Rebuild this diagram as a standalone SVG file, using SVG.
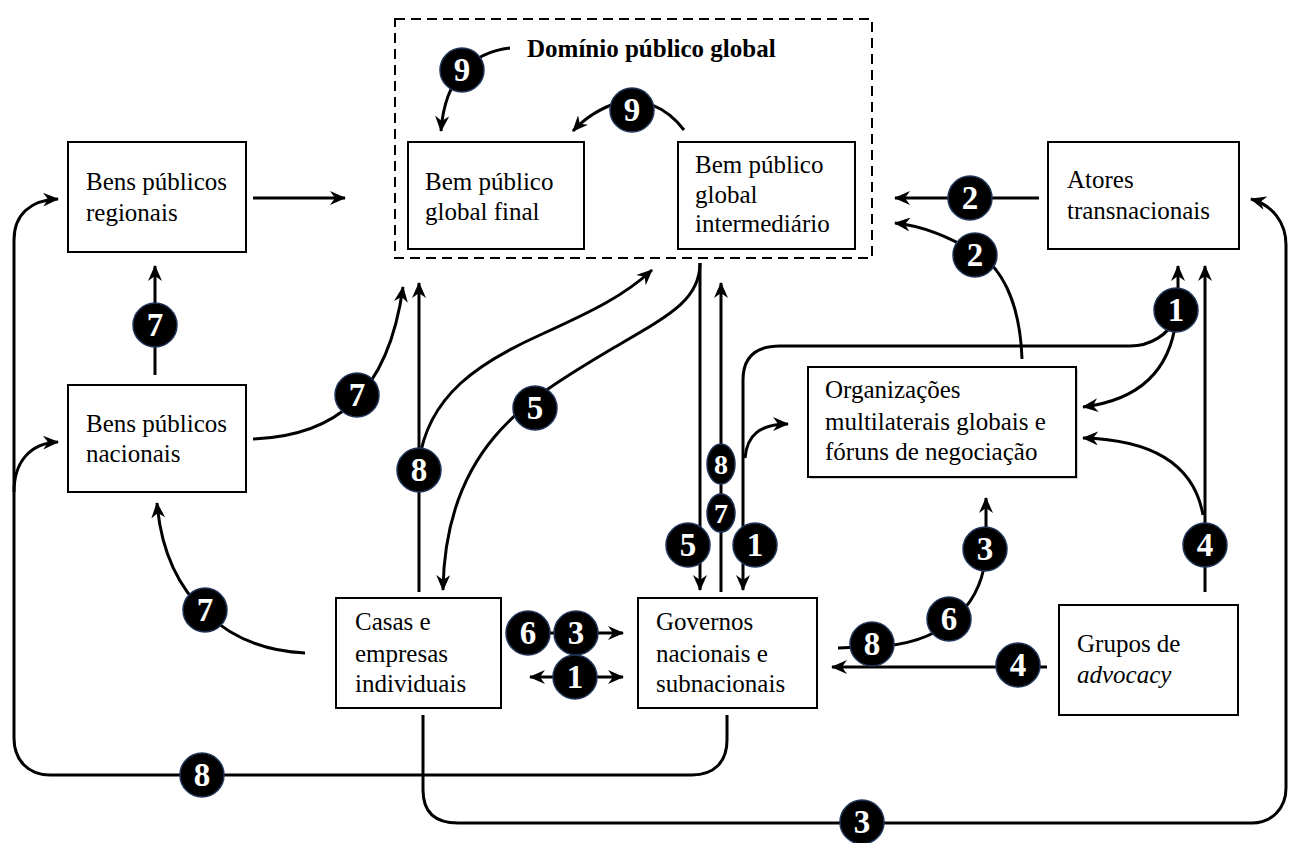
<svg xmlns="http://www.w3.org/2000/svg" width="1290" height="843" viewBox="0 0 1290 843">
<style>
.box{fill:#fff;stroke:#000;stroke-width:2}
.t{font-family:'Liberation Serif','Times New Roman',serif;font-size:25px;fill:#000}
.title{font-family:'Liberation Serif','Times New Roman',serif;font-size:25px;font-weight:bold;fill:#000}
.c{fill:none;stroke:#000;stroke-width:3}
.a{marker-end:url(#ah)}
.b circle,.b ellipse{fill:#000;stroke:#1f3458;stroke-width:1.5}
.b text{font-family:'Liberation Serif','Times New Roman',serif;font-size:33px;font-weight:bold;fill:#fff;text-anchor:middle}
</style>
<defs>
<marker id="ah" viewBox="0 0 16 14" refX="15" refY="7" markerWidth="16" markerHeight="14" markerUnits="userSpaceOnUse" orient="auto-start-reverse">
<path d="M0,0 L16,7 L0,14 L5,7 z" fill="#000"/>
</marker>
</defs>
<rect width="1290" height="843" fill="#fff"/>

<g id="dominio">
<rect x="395" y="19" width="477" height="239" fill="none" stroke="#000" stroke-width="2" stroke-dasharray="10,6"/>
<text class="title" x="527" y="57">Domínio público global</text>
</g>
<g id="bem-final">
<rect class="box" x="408" y="142" width="176" height="107"/>
<text class="t" x="425" y="190">Bem público</text>
<text class="t" x="425" y="220">global final</text>
</g>
<g id="bem-intermediario">
<rect class="box" x="678" y="142" width="177" height="107"/>
<text class="t" x="695" y="173">Bem público</text>
<text class="t" x="695" y="203">global</text>
<text class="t" x="695" y="232">intermediário</text>
</g>
<g id="regionais">
<rect class="box" x="68" y="142" width="178" height="110"/>
<text class="t" x="86" y="190">Bens públicos</text>
<text class="t" x="86" y="221">regionais</text>
</g>
<g id="nacionais">
<rect class="box" x="68" y="385" width="178" height="107"/>
<text class="t" x="86" y="432">Bens públicos</text>
<text class="t" x="86" y="462">nacionais</text>
</g>
<g id="atores">
<rect class="box" x="1048" y="142" width="191" height="107"/>
<text class="t" x="1067" y="188">Atores</text>
<text class="t" x="1067" y="219">transnacionais</text>
</g>
<g id="organizacoes">
<rect x="810" y="369" width="268" height="110" fill="#ccc"/>
<rect class="box" x="808" y="367" width="268" height="110"/>
<text class="t" x="825" y="398">Organizações</text>
<text class="t" x="825" y="430">multilaterais globais e</text>
<text class="t" x="825" y="460">fóruns de negociação</text>
</g>
<g id="casas">
<rect class="box" x="336" y="598" width="165" height="110"/>
<text class="t" x="355" y="630">Casas e</text>
<text class="t" x="355" y="662">empresas</text>
<text class="t" x="355" y="692">individuais</text>
</g>
<g id="governos">
<rect class="box" x="638" y="598" width="179" height="110"/>
<text class="t" x="656" y="630">Governos</text>
<text class="t" x="656" y="662">nacionais e</text>
<text class="t" x="656" y="692">subnacionais</text>
</g>
<g id="grupos">
<rect class="box" x="1059" y="605" width="179" height="110"/>
<text class="t" x="1077" y="652">Grupos de</text>
<text class="t" x="1077" y="683" font-style="italic">advocacy</text>
</g>

<g id="connectors">
<path class="c a" d="M253,198 L345,198"/>
<path class="c a" d="M155,375 L155,266"/>
<path class="c a" d="M253,439 C335,436 388,395 403,287"/>
<path class="c a" d="M419,592 L419,283"/>
<path class="c a" d="M419,462 C428,395 480,362 540,335 C595,310 625,295 652,270"/>
<path class="c a" d="M700,263 L700,590"/>
<path class="c a" d="M700,263 C700,300 670,315 610,350 C530,398 445,445 443,590"/>
<path class="c a" d="M721,592 L721,283"/>
<path class="c" d="M743,590 L743,380 C743,358 755,346 780,346 L1130,346 C1150,346 1168,335 1176,318" marker-start="url(#ah)"/>
<path class="c a" d="M1178,300 L1178,266"/>
<path class="c a" d="M1176,320 C1170,370 1140,400 1083,407"/>
<path class="c a" d="M745,458 C747,435 760,424 788,424"/>
<path class="c a" d="M1022,359 C1020,300 1000,265 975,252 C950,238 925,226 895,223"/>
<path class="c a" d="M1039,198 L895,198"/>
<path class="c a" d="M1205,592 L1205,266"/>
<path class="c a" d="M1203,515 C1195,470 1160,440 1083,438"/>
<path class="c a" d="M838,648 L885,646 C950,640 984,600 986,550 L986,498"/>
<path class="c a" d="M1047,667 L832,667"/>
<path class="c a" d="M528,633 L623,633"/>
<path class="c a" d="M530,677 L623,677" marker-start="url(#ah)"/>
<path class="c a" d="M305,653 C230,650 165,600 157,503"/>
<path class="c a" d="M727,715 L727,740 C727,762 714,775 692,775 L50,775 C28,775 14,760 14,738 L14,240 C14,215 30,200 58,199"/>
<path class="c a" d="M14,492 C14,462 30,443 58,442"/>
<path class="c a" d="M423,715 L423,790 C423,812 435,823 458,823 L1252,823 C1272,823 1286,808 1286,788 L1286,245 C1286,222 1272,205 1251,199"/>
<path class="c a" d="M510,48 C475,52 445,75 441,131"/>
<path class="c a" d="M684,130 C665,105 640,98 620,102 C600,108 585,118 573,131"/>

<g class="b">
<circle cx="462" cy="70" r="22"/><text x="462" y="81">9</text>
<circle cx="632" cy="110" r="22"/><text x="632" y="121">9</text>
<circle cx="155" cy="325" r="22"/><text x="155" y="336">7</text>
<circle cx="357" cy="395" r="22"/><text x="357" y="406">7</text>
<circle cx="419" cy="470" r="22"/><text x="419" y="481">8</text>
<circle cx="535" cy="408" r="22"/><text x="535" y="419">5</text>
<circle cx="205" cy="610" r="22"/><text x="205" y="621">7</text>
<circle cx="202" cy="775" r="22"/><text x="202" y="786">8</text>
<circle cx="862" cy="822" r="22"/><text x="862" y="833">3</text>
<circle cx="970" cy="198" r="22"/><text x="970" y="209">2</text>
<circle cx="975" cy="255" r="22"/><text x="975" y="266">2</text>
<circle cx="1176" cy="310" r="22"/><text x="1176" y="321">1</text>
<circle cx="1205" cy="545" r="22"/><text x="1205" y="556">4</text>
<circle cx="985" cy="549" r="22"/><text x="985" y="560">3</text>
<circle cx="949" cy="619" r="22"/><text x="949" y="630">6</text>
<circle cx="872" cy="644" r="22"/><text x="872" y="655">8</text>
<circle cx="1018" cy="665" r="22"/><text x="1018" y="676">4</text>
<circle cx="688" cy="545" r="22"/><text x="688" y="556">5</text>
<circle cx="755" cy="545" r="22"/><text x="755" y="556">1</text>
<ellipse cx="721" cy="464" rx="14" ry="20"/><text x="721" y="474" style="font-size:28px">8</text>
<ellipse cx="721" cy="513" rx="14" ry="19"/><text x="721" y="523" style="font-size:28px">7</text>
<circle cx="528" cy="633" r="22"/><text x="528" y="644">6</text>
<circle cx="576" cy="633" r="22"/><text x="576" y="644">3</text>
<circle cx="575" cy="677" r="22"/><text x="575" y="688">1</text>
</g>
</g>
</svg>
